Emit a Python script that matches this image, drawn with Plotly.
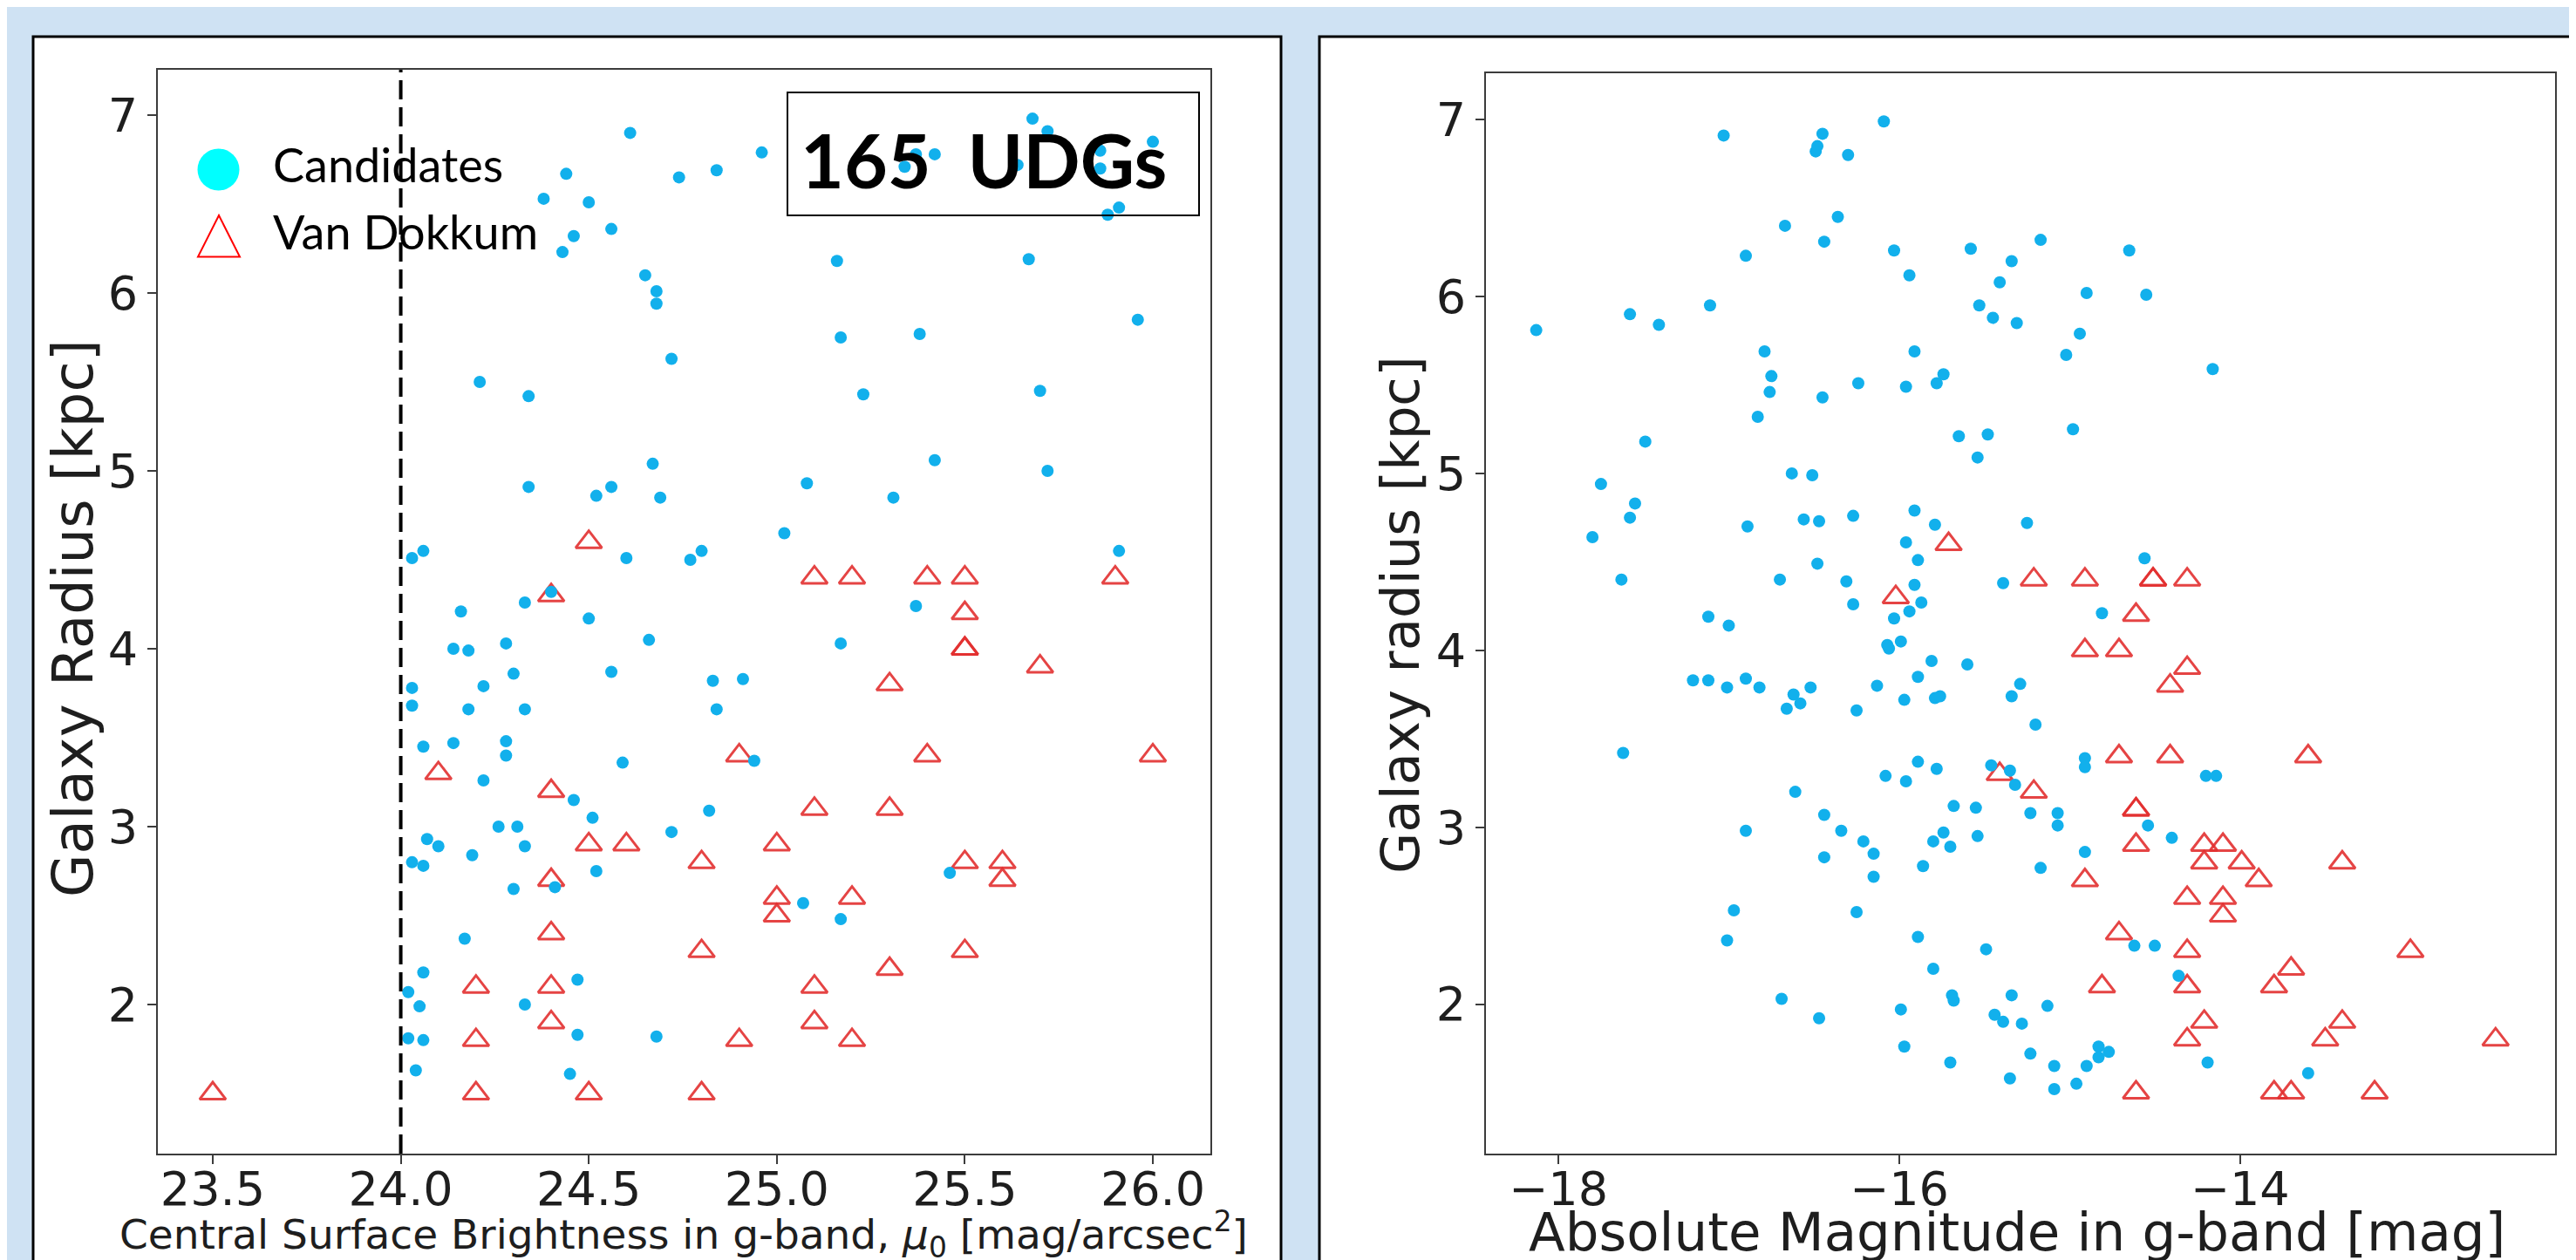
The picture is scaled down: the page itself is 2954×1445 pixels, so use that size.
import plotly.graph_objects as go

W, H = 2954, 1445

# ---------------- data: left panel (central surface brightness vs radius) ----------------
left_cand_mu = [24.61, 24.44, 24.74, 24.84, 24.38, 24.50, 24.56, 24.46, 24.43, 24.65, 24.68, 24.68,
                24.72, 24.21, 24.34, 24.67, 24.34, 24.56, 24.52, 24.69, 24.03, 24.06, 24.60, 24.77,
                24.80, 24.40, 24.33, 24.16,
                24.96, 25.68, 25.72, 26.00, 25.86, 25.86, 25.64, 25.37, 25.42, 25.34, 25.91, 25.88,
                25.16, 25.67, 25.96, 25.17, 25.38, 25.23, 25.70, 25.42, 25.72, 25.08, 25.31, 25.02,
                25.91, 25.37,
                24.50, 24.66, 24.14, 24.18, 24.28, 24.30, 24.56, 24.83, 24.03, 24.22, 24.03, 24.18,
                24.33, 24.84, 24.06, 24.14, 24.28, 24.28, 24.59, 24.22, 24.46, 24.51, 24.82, 24.26,
                24.31, 24.72, 24.07, 24.10, 24.33, 24.19, 24.03, 24.06, 24.52, 24.41, 24.30, 24.17,
                24.06, 24.47, 24.02, 24.05, 24.33, 24.02, 24.06, 24.47, 24.68, 24.04, 24.45,
                25.17, 24.91, 24.94, 25.46, 25.07, 25.17]
left_cand_r = [6.90, 6.67, 6.65, 6.69, 6.53, 6.51, 6.36, 6.32, 6.23, 6.10, 6.01, 5.94,
               5.63, 5.50, 5.42, 5.04, 4.91, 4.91, 4.86, 4.85, 4.51, 4.55, 4.51, 4.50,
               4.55, 4.32, 4.26, 4.21,
               6.79, 6.98, 6.91, 6.85, 6.80, 6.70, 6.72, 6.78, 6.78, 6.71, 6.48, 6.44,
               6.18, 6.19, 5.85, 5.75, 5.77, 5.43, 5.45, 5.06, 5.00, 4.93, 4.85, 4.65,
               4.55, 4.24,
               4.17, 4.05, 4.00, 3.99, 4.03, 3.86, 3.87, 3.82, 3.78, 3.79, 3.68, 3.66,
               3.66, 3.66, 3.45, 3.47, 3.48, 3.40, 3.36, 3.26, 3.15, 3.05, 3.09, 3.00,
               3.00, 2.97, 2.93, 2.89, 2.89, 2.84, 2.80, 2.78, 2.75, 2.66, 2.65, 2.37,
               2.18, 2.14, 2.07, 1.99, 2.00, 1.81, 1.80, 1.83, 1.82, 1.63, 1.61,
               4.03, 3.83, 3.37, 2.74, 2.57, 2.48]

left_vd_mu = [24.5, 24.4, 25.1, 25.2, 25.4, 25.5, 25.9, 25.5, 25.5, 25.5, 25.7, 25.3,
              24.9, 25.4, 26.0, 24.1, 24.4, 25.1, 25.3, 24.5, 24.6, 25.0, 24.8, 25.5,
              25.6, 24.4, 25.6, 25.0, 25.2, 25.0, 24.4, 24.8, 25.5, 25.3, 24.2, 24.4,
              25.1, 24.4, 25.1, 24.2, 24.9, 25.2, 23.5, 24.2, 24.5, 24.8]
left_vd_r = [4.6, 4.3, 4.4, 4.4, 4.4, 4.4, 4.4, 4.2, 4.0, 4.0, 3.9, 3.8,
             3.4, 3.4, 3.4, 3.3, 3.2, 3.1, 3.1, 2.9, 2.9, 2.9, 2.8, 2.8,
             2.8, 2.7, 2.7, 2.6, 2.6, 2.5, 2.4, 2.3, 2.3, 2.2, 2.1, 2.1,
             2.1, 1.9, 1.9, 1.8, 1.8, 1.8, 1.5, 1.5, 1.5, 1.5]

# ---------------- data: right panel (absolute magnitude vs radius) ----------------
right_cand_mag = [-18.13, -17.03, -16.45, -16.48, -16.49, -16.30, -16.09, -16.67, -16.36, -16.44,
                  -16.90, -16.03, -15.94, -15.58, -15.34, -15.41, -15.53, -15.45, -15.31, -17.11,
                  -17.58, -17.41, -16.79, -16.75, -16.76, -16.45, -16.24, -15.91, -15.96, -15.74,
                  -15.78, -16.83, -17.49, -15.65, -15.48, -15.54, -16.63, -16.51, -17.75, -17.55,
                  -17.58, -17.80, -16.89, -16.56, -16.47, -16.27, -15.91, -15.79, -15.25, -15.96,
                  -15.89, -16.48, -16.70, -17.63, -16.31, -15.91, -15.39, -16.27, -15.87, -15.94,
                  -15.17, -14.65, -14.90, -14.55, -14.94, -15.02, -14.16, -14.98, -14.56, -14.81,
                  -17.12, -17.00, -16.03, -16.07, -16.06, -15.99, -15.81, -15.60, -15.29, -15.34,
                  -15.89, -16.13, -15.97, -15.79, -15.76, -17.21, -17.12, -17.01, -16.90, -16.82,
                  -16.62, -16.58, -16.66, -16.52, -16.25, -17.62, -15.89, -15.78, -16.08, -15.96,
                  -15.46, -15.35, -15.32, -16.61, -15.68, -15.55, -16.44, -16.34, -16.90, -16.21,
                  -16.15, -16.44, -15.80, -15.74, -15.70, -15.54, -15.86, -16.15, -16.97, -16.25,
                  -17.01, -15.89, -15.49, -15.80, -15.69, -15.68, -15.34, -16.69, -16.47, -15.99,
                  -15.44, -15.39, -15.28, -15.97, -15.70, -15.35,
                  -15.20, -14.91, -14.91, -14.20, -14.14, -15.23, -15.07, -15.07, -14.54, -14.40,
                  -14.91, -15.17, -14.62, -14.50, -14.36, -15.13, -14.83, -14.77, -14.83, -15.23,
                  -15.09, -14.90, -15.09, -14.96, -14.19, -13.60]
right_cand_r = [5.81, 6.91, 6.92, 6.85, 6.82, 6.80, 6.99, 6.40, 6.45, 6.31,
                6.23, 6.26, 6.12, 6.27, 6.20, 6.08, 5.95, 5.88, 5.85, 5.95,
                5.90, 5.84, 5.69, 5.55, 5.46, 5.43, 5.51, 5.69, 5.49, 5.56,
                5.51, 5.32, 5.18, 5.21, 5.22, 5.09, 5.00, 4.99, 4.94, 4.83,
                4.75, 4.64, 4.70, 4.74, 4.73, 4.76, 4.79, 4.71, 4.72, 4.61,
                4.51, 4.49, 4.40, 4.40, 4.39, 4.37, 4.38, 4.26, 4.27, 4.22,
                6.32, 6.26, 6.02, 6.01, 5.79, 5.67, 5.59, 5.25, 4.52, 4.21,
                4.19, 4.14, 4.18, 4.03, 4.01, 4.05, 3.94, 3.92, 3.81, 3.74,
                3.85, 3.80, 3.72, 3.73, 3.74, 3.83, 3.83, 3.79, 3.84, 3.79,
                3.75, 3.70, 3.67, 3.79, 3.66, 3.42, 3.37, 3.33, 3.29, 3.26,
                3.35, 3.32, 3.24, 3.20, 3.12, 3.11, 3.07, 2.98, 2.98, 2.92,
                2.85, 2.83, 2.92, 2.97, 2.89, 2.95, 2.78, 2.72, 2.53, 2.52,
                2.36, 2.38, 2.31, 2.20, 2.05, 2.02, 2.05, 2.03, 1.92, 1.97,
                1.94, 1.90, 1.89, 1.76, 1.67, 1.58,
                3.58, 3.39, 3.34, 3.29, 3.29, 3.08, 3.08, 3.01, 3.01, 2.94,
                2.86, 2.77, 2.33, 2.33, 2.16, 1.99, 1.76, 1.73, 1.70, 1.72,
                1.65, 1.65, 1.52, 1.55, 1.67, 1.61]

right_vd_mag = [-15.71, -16.02, -15.21, -14.91, -14.51, -14.51, -14.31, -14.61, -14.91, -14.71,
                -14.31, -14.41, -14.71, -14.41, -13.60, -15.41, -15.21, -14.61, -14.61, -14.61,
                -14.21, -14.10, -14.21, -13.99, -13.40, -13.89, -14.91, -14.31, -14.10, -14.10,
                -14.71, -14.31, -13.00, -13.70, -13.80, -14.81, -14.31, -14.21, -13.40, -14.31,
                -13.50, -12.50, -14.61, -13.80, -13.70, -13.21]
right_vd_r = [4.6, 4.3, 4.4, 4.4, 4.4, 4.4, 4.4, 4.2, 4.0, 4.0,
              3.9, 3.8, 3.4, 3.4, 3.4, 3.3, 3.2, 3.1, 3.1, 2.9,
              2.9, 2.9, 2.8, 2.8, 2.8, 2.7, 2.7, 2.6, 2.6, 2.5,
              2.4, 2.3, 2.3, 2.2, 2.1, 2.1, 2.1, 1.9, 1.9, 1.8,
              1.8, 1.8, 1.5, 1.5, 1.5, 1.5]

left_xticks = [23.5, 24.0, 24.5, 25.0, 25.5, 26.0]
right_xticks = [-18, -16, -14]
y_ticks = [2, 3, 4, 5, 6, 7]
mu_cut = 24.0

# ---------------- styling ----------------
CAND = '#12B0EC'
VD = 'rgba(226,48,48,0.9)'
AX = '#3c3c3c'
TXT = '#1e1e1e'
TICKFONT = dict(family='DejaVu Sans', size=54, color=TXT)


def px(x):
    return x / W


def py(y):
    return 1 - y / H


fig = go.Figure()

fig.add_trace(go.Scatter(x=left_vd_mu, y=left_vd_r, mode='markers', name='Van Dokkum',
                         marker=dict(symbol='triangle-up-open', size=26, color=VD, line=dict(width=3)),
                         xaxis='x', yaxis='y'))
fig.add_trace(go.Scatter(x=left_cand_mu, y=left_cand_r, mode='markers', name='Candidates',
                         marker=dict(symbol='circle', size=14, color=CAND, line=dict(width=0)),
                         xaxis='x', yaxis='y'))
fig.add_trace(go.Scatter(x=right_vd_mag, y=right_vd_r, mode='markers', name='Van Dokkum',
                         marker=dict(symbol='triangle-up-open', size=26, color=VD, line=dict(width=3)),
                         xaxis='x2', yaxis='y2'))
fig.add_trace(go.Scatter(x=right_cand_mag, y=right_cand_r, mode='markers', name='Candidates',
                         marker=dict(symbol='circle', size=14, color=CAND, line=dict(width=0)),
                         xaxis='x2', yaxis='y2'))

axis_common = dict(showline=True, mirror=True, linecolor=AX, linewidth=2, ticks='outside',
                   ticklen=10, tickwidth=2, tickcolor=AX, showgrid=False, zeroline=False,
                   tickfont=TICKFONT)

fig.update_layout(
    width=W, height=H, margin=dict(l=0, r=0, t=0, b=0),
    paper_bgcolor='#CFE2F3', plot_bgcolor='white', showlegend=False,
    xaxis=dict(domain=[px(173), px(1380)], range=[23.354, 26.153], tickvals=left_xticks,
               ticktext=[f'{v:.1f}' for v in left_xticks], anchor='y', ticklabelstandoff=-18,
               **axis_common),
    yaxis=dict(domain=[py(1315), py(72)], range=[1.162, 7.255], tickvals=y_ticks,
               anchor='x', **axis_common),
    xaxis2=dict(domain=[px(1696), px(2922)], range=[-18.425, -12.151], tickvals=right_xticks,
                anchor='y2', ticklabelstandoff=-18, **axis_common),
    yaxis2=dict(domain=[py(1315), py(76)], range=[1.155, 7.262], tickvals=y_ticks,
                anchor='x2', **axis_common),
)

shapes = [
    # white panels
    dict(type='rect', xref='paper', yref='paper', x0=px(30), x1=px(1461), y0=-0.05, y1=py(34),
         fillcolor='white', line=dict(color='black', width=3), layer='below'),
    dict(type='rect', xref='paper', yref='paper', x0=px(1505), x1=1.02, y0=-0.05, y1=py(34),
         fillcolor='white', line=dict(color='black', width=3), layer='below'),
    # dashed cut line
    dict(type='line', xref='x', yref='y domain', x0=mu_cut, x1=mu_cut, y0=0, y1=1,
         line=dict(color='black', width=4, dash='22px,9px'), layer='above'),
    # "165 UDGs" box
    dict(type='rect', xref='paper', yref='paper', x0=px(895), x1=px(1367), y0=py(239), y1=py(98),
         fillcolor='rgba(0,0,0,0)', line=dict(color='black', width=2), layer='above'),
    # legend glyphs
    dict(type='circle', xref='paper', yref='paper', x0=px(218.5), x1=px(266.5), y0=py(210.5), y1=py(162.5),
         fillcolor='#00FFFF', line=dict(width=0), layer='above'),
    dict(type='path', xref='paper', yref='paper',
         path=f'M {px(219)},{py(286.5)} L {px(267)},{py(286.5)} L {px(243)},{py(239)} Z',
         fillcolor='rgba(0,0,0,0)', line=dict(color='#FF0000', width=2), layer='above'),
]
fig.update_layout(shapes=shapes)

annotations = [
    dict(text='Candidates', x=px(303), y=py(180), xanchor='left', yanchor='middle',
         font=dict(family='Lato', size=54, color='black')),
    dict(text='Van Dokkum', x=px(303), y=py(257), xanchor='left', yanchor='middle',
         font=dict(family='Lato', size=54, color='black')),
    dict(text='<b>165\u00a0\u00a0UDGs</b>', x=px(1120), y=py(175), xanchor='center', yanchor='middle',
         font=dict(family='Lato', size=86, color='black')),
    dict(text='Galaxy Radius [kpc]', x=px(76), y=py(701), textangle=-90, xanchor='center',
         yanchor='middle', font=dict(family='DejaVu Sans', size=64, color=TXT)),
    dict(text='Galaxy radius [kpc]', x=px(1597), y=py(697), textangle=-90, xanchor='center',
         yanchor='middle', font=dict(family='DejaVu Sans', size=61, color=TXT)),
    dict(text='Central Surface Brightness in g-band, <i>\u03bc</i><sub>0</sub> [mag/arcsec<sup>2</sup>]',
         x=px(776), y=py(1407), xanchor='center', yanchor='middle',
         font=dict(family='DejaVu Sans', size=47, color=TXT)),
    dict(text='Absolute Magnitude in g-band [mag]', x=px(2305), y=py(1404), xanchor='center',
         yanchor='middle', font=dict(family='DejaVu Sans', size=61, color=TXT)),
]
for a in annotations:
    a.update(xref='paper', yref='paper', showarrow=False)
fig.update_layout(annotations=annotations)

fig.write_html('out.html')
